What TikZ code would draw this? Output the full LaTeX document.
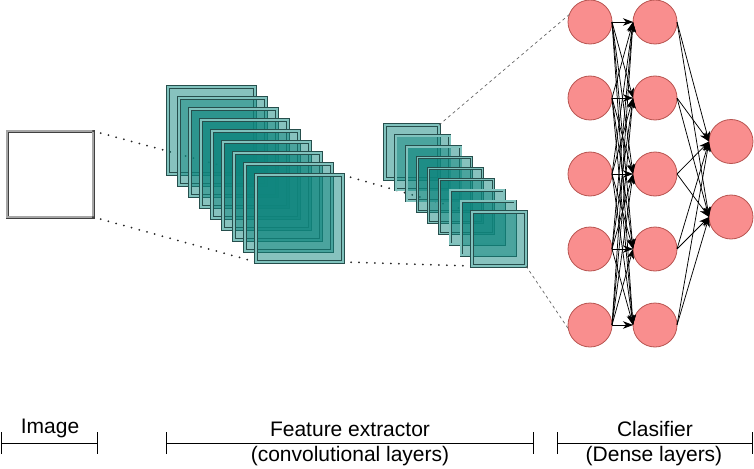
\documentclass[tikz,border=0pt]{standalone}
\usepackage{fontspec}
\setmainfont{Liberation Sans}
\usetikzlibrary{arrows.meta}
\definecolor{tealfill}{RGB}{16,134,126}
\definecolor{tealline}{RGB}{38,78,76}
\definecolor{tealstrip}{RGB}{128,194,189}
\definecolor{neuronfill}{RGB}{249,142,142}
\definecolor{neuronline}{RGB}{184,84,80}
\tikzset{
  fmap/.style={fill=tealfill, fill opacity=0.5, text opacity=1, inner sep=0pt, outer sep=0pt, minimum size=#1},
  edgeouter/.style={draw=tealline, line width=3.2pt},
  edgeinner/.style={draw=tealstrip, line width=1.6pt},
  imgouter/.style={draw=black!75, line width=3.0pt},
  imginner/.style={draw=black!35, line width=1.4pt},
  imgbox/.style={fill=white, inner sep=0pt, outer sep=0pt, minimum size=86pt},
  neuron/.style={circle, draw=neuronline, line width=0.8pt, fill=neuronfill, inner sep=0pt, outer sep=0pt, minimum size=44pt},
  arr/.style={-{Stealth[length=10pt,width=7.5pt,inset=3pt]}, line width=0.75pt, black},
  dotline/.style={line width=2pt, dash pattern=on 0pt off 8pt, line cap=round, black!85},
  dashline/.style={line width=0.7pt, dash pattern=on 3pt off 3pt, black!60},
  bracket/.style={{Bar[width=22pt]}-{Bar[width=22pt]}, line width=0.8pt},
  lbl/.style={anchor=base, inner sep=0pt, font=\fontsize{21}{25}\selectfont}
}
\begin{document}
\begin{tikzpicture}[x=1pt,y=-1pt]
\useasboundingbox (0,0) rectangle (754,468);
% image
\node[imgbox] (img) at (50,174) {};
\draw[imgouter] (img.north west) rectangle (img.south east);
\draw[imginner] (img.north west) rectangle (img.south east);
% centres of feature maps
\foreach \k in {1,...,9} {
  \coordinate (bc\k) at ({211.5+11*(\k-1)},{130.5+11*(\k-1)});
  \coordinate (sc\k) at ({412+10.875*(\k-1)},{152+10.875*(\k-1)});
}
% invisible placeholders to obtain anchors for the lines
\node[inner sep=0pt, outer sep=0pt, minimum size=87pt] (b9) at (bc9) {};
\node[inner sep=0pt, outer sep=0pt, minimum size=54pt] (s9) at (sc9) {};
% dotted projection lines (behind feature maps)
\draw[dotline] (img.north east) -- (b9.north west);
\draw[dotline] (img.south east) -- (b9.south west);
\draw[dotline] (b9.north east) -- (s9.north west);
\draw[dotline] (b9.south east) -- (s9.south west);
% feature maps
\foreach \k in {1,...,9} {
  \node[fmap=87pt] (big\k) at (bc\k) {};
  \draw[edgeouter] (big\k.north west) rectangle (big\k.south east);
  \draw[edgeinner] (big\k.north west) rectangle (big\k.south east);
}
\foreach \k in {1,...,9} {
  \node[fmap=54pt] (sm\k) at (sc\k) {};
  \draw[edgeouter] (sm\k.north west) rectangle (sm\k.south east);
  \draw[edgeinner] (sm\k.north west) rectangle (sm\k.south east);
}
% neurons
\foreach \i/\y in {1/22,2/98,3/174,4/249,5/325} {
  \node[neuron] (l\i) at (590,\y) {};
  \node[neuron] (m\i) at (655,\y) {};
}
\node[neuron] (r1) at (731,141.5) {};
\node[neuron] (r2) at (731,217) {};
% dashed lines to classifier
\draw[dashline] (sm1.north east) -- (l1.160);
\draw[dashline] (sm9.south east) -- (l5.190);
% dense connections
\foreach \i in {1,...,5} {
  \foreach \j in {1,...,5} {
    \draw[arr] (l\i.east) -- (m\j.west);
  }
  \draw[arr] (m\i.east) -- (r1.west);
  \draw[arr] (m\i.east) -- (r2.west);
}
% bottom brackets
\coordinate (ia) at (1,443);
\coordinate (ib) at (98,443);
\coordinate (fa) at (166,443);
\coordinate (fb) at (534,443);
\coordinate (ca) at (557,443);
\coordinate (cb) at (753,443);
\draw[bracket] (ia) -- (ib);
\draw[bracket] (fa) -- (fb);
\draw[bracket] (ca) -- (cb);
\node[lbl] (timg) at (50,433) {Image};
\node[lbl] (tfe1) at (350,436) {Feature extractor};
\node[lbl] (tfe2) at (350,461) {(convolutional layers)};
\node[lbl] (tcl1) at (655,436) {Clasifier};
\node[lbl] (tcl2) at (654,461) {(Dense layers)};
\end{tikzpicture}
\end{document}
